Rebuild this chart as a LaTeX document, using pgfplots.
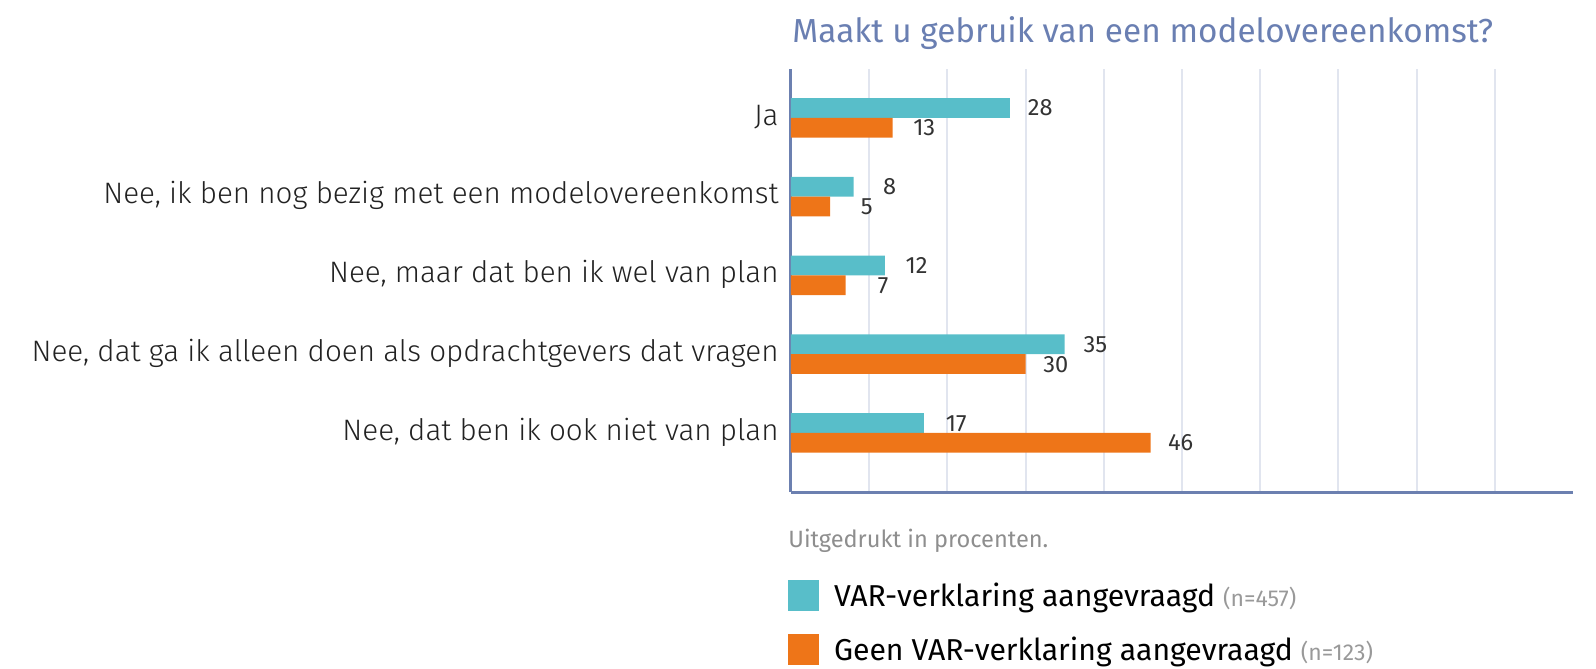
\documentclass[border=0pt]{standalone}
\usepackage{fontspec}
\setmainfont{Fira Sans}
\newfontfamily\lightfont{Fira Sans Light}
\usepackage{pgfplots}
\pgfplotsset{compat=1.18}

\definecolor{barteal}{HTML}{58BEC9}
\definecolor{barorange}{HTML}{EE7518}
\definecolor{titleblue}{HTML}{6A7FB2}
\definecolor{axisblue}{HTML}{6C80B0}
\definecolor{gridgray}{HTML}{E1E5EF}
\definecolor{valgray}{HTML}{333333}
\definecolor{labelgray}{HTML}{222222}
\definecolor{notegray}{HTML}{8E8E8E}
\definecolor{ngray}{HTML}{999999}

\begin{document}
\begin{tikzpicture}
\path[use as bounding box] (0,0) rectangle (798pt,-334.5pt);

\node[anchor=base west, inner sep=0pt, text=titleblue, font=\fontsize{16.65}{19}\selectfont]
  at (396pt,-21pt) {Maakt u gebruik van een modelovereenkomst?};
\node[anchor=base west, inner sep=0pt, text=notegray, font=\fontsize{11.8}{14}\selectfont]
  at (394pt,-273.5pt) {Uitgedrukt in procenten.};

\begin{axis}[
  at={(395.5pt,-246pt)}, anchor=south west,
  scale only axis, width=391pt, height=211.5pt,
  xmin=0, xmax=100, ymin=-0.75, ymax=4.62,
  clip=false,
  xbar, bar width=0.25, bar shift=0pt,
  axis x line*=bottom, axis y line*=left,
  axis line style={draw=axisblue, line width=1.5pt},
  xtick={10,20,...,90}, xticklabels={},
  xmajorgrids, major grid style={draw=gridgray, line width=1pt},
  major tick length=0pt,
  ytick={0,1,2,3,4},
  yticklabels={{Nee, dat ben ik ook niet van plan},
               {Nee, dat ga ik alleen doen als opdrachtgevers dat vragen},
               {Nee, maar dat ben ik wel van plan},
               {Nee, ik ben nog bezig met een modelovereenkomst},
               {Ja}},
  yticklabel style={font=\lightfont\fontsize{14.8}{17}\selectfont, text=labelgray,
    anchor=base east, inner sep=0pt, xshift=-6pt, yshift=-3.6pt},
  nodes near coords, point meta=x,
  nodes near coords style={anchor=base east, xshift=21.5pt, yshift=-4pt,
    inner sep=0pt, font=\fontsize{11.8}{13}\selectfont, text=valgray,
    /pgf/number format/fixed, /pgf/number format/precision=0,
    /pgf/number format/assume math mode=true},
  legend style={at={(0,0)}, anchor=north west, xshift=-1.5pt, yshift=-44pt,
    draw=none, fill=none, inner sep=0pt, outer sep=0pt,
    row sep=10pt, column sep=7.5pt,
    nodes={inner sep=0pt, text height=13pt, text depth=4pt, anchor=base west,
      font=\fontsize{15.1}{18}\selectfont, text=black}},
  legend cell align=left,
  legend image code/.code={\fill (0pt,-2.5pt) rectangle (15.5pt,13pt);},
]
% teal: VAR-verklaring aangevraagd (upper bar of each pair)
\addplot[draw=none, fill=barteal] coordinates {
  (17,0.125) (35,1.125) (12,2.125) (8,3.125) (28,4.125)};
\addlegendentry{VAR-verklaring aangevraagd {\color{ngray}\fontsize{11.5}{13}\selectfont(n=457)}}
% orange: Geen VAR-verklaring aangevraagd (lower bar)
\addplot[draw=none, fill=barorange] coordinates {
  (46,-0.125) (30,0.875) (7,1.875) (5,2.875) (13,3.875)};
\addlegendentry{Geen VAR-verklaring aangevraagd {\color{ngray}\fontsize{11.5}{13}\selectfont(n=123)}}
\end{axis}
\end{tikzpicture}
\end{document}
